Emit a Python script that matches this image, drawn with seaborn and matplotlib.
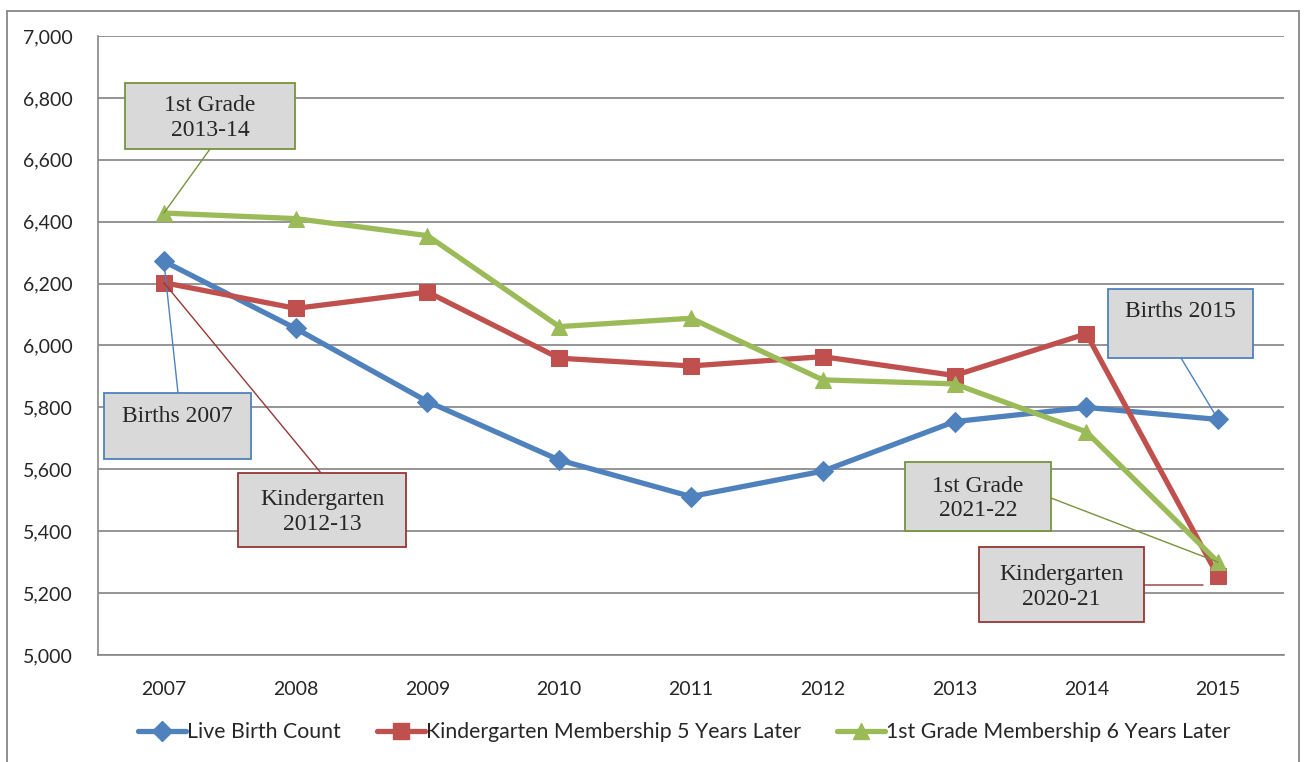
import matplotlib
matplotlib.use("Agg")
import matplotlib.pyplot as plt
import seaborn as sns
import pandas as pd
from matplotlib.patches import Rectangle
from matplotlib.lines import Line2D

years = ["2007", "2008", "2009", "2010", "2011", "2012", "2013", "2014", "2015"]
live_births = [6272, 6055, 5819, 5630, 5512, 5594, 5754, 5800, 5761]
kindergarten = [6203, 6120, 6173, 5959, 5934, 5964, 5903, 6038, 5254]
first_grade = [6428, 6410, 6355, 6061, 6088, 5889, 5876, 5721, 5300]

series_names = ["Live Birth Count",
                "Kindergarten Membership 5 Years Later",
                "1st Grade Membership 6 Years Later"]
colors = ["#4F81BD", "#C0504D", "#9BBB59"]
markers = ["D", "s", "^"]
msizes = [10.5, 11.5, 12]

rows = []
for name, vals in zip(series_names, [live_births, kindergarten, first_grade]):
    for i, (y, v) in enumerate(zip(years, vals)):
        rows.append({"idx": i, "year": y, "value": v, "series": name})
df = pd.DataFrame(rows)

sns.set_style("white")
plt.rcParams["font.family"] = ["Lato", "DejaVu Sans"]

W, H = 1304, 762
fig = plt.figure(figsize=(W / 100, H / 100), dpi=100)
ax = fig.add_axes([98 / W, 1 - 655 / H, (1284 - 98) / W, (655 - 36) / H])

for name, c, m, ms in zip(series_names, colors, markers, msizes):
    sub = df[df["series"] == name]
    sns.lineplot(data=sub, x="idx", y="value", ax=ax, color=c, lw=3.8,
                 marker=m, markersize=ms, markeredgecolor=c, legend=False,
                 zorder=3)

ax.set_xlim(-0.5, len(years) - 0.5)
ax.set_ylim(5000, 7000)
ax.set_yticks(range(5000, 7001, 200))
ax.set_yticklabels([f"{v:,}" for v in range(5000, 7001, 200)])
ax.set_xticks(range(len(years)))
ax.set_xticklabels(years)
ax.set_xticks([i - 0.5 for i in range(len(years) + 1)], minor=True)
ax.tick_params(axis="x", which="major", length=0, pad=19, labelsize=14)
ax.tick_params(axis="x", which="minor", length=6, color="#868686", width=1.2,
               direction="out")
ax.tick_params(axis="y", which="major", length=6, color="#868686", width=1.2,
               direction="out", pad=12, labelsize=14)
ax.set_xlabel("")
ax.set_ylabel("")
ax.grid(axis="y", color="#8C8C8C", lw=1.3)
ax.grid(axis="x", visible=False)
for s in ["top", "right"]:
    ax.spines[s].set_visible(False)
for s in ["left", "bottom"]:
    ax.spines[s].set_color("#868686")
    ax.spines[s].set_linewidth(1.2)
ax.set_axisbelow(True)

# outer chart border
fig.add_artist(Rectangle((7 / W, -0.05), (1299 - 7) / W, 1.05 - 11 / H,
                         transform=fig.transFigure, fill=False,
                         edgecolor="#868686", lw=1.3))

# legend
handles = [Line2D([0], [0], color=c, lw=3.8, marker=m, markersize=ms * 0.95,
                  markeredgecolor=c)
           for c, m, ms in zip(colors, markers, msizes)]
fig.legend(handles, series_names, loc="center", ncol=3,
           bbox_to_anchor=(684 / W, 1 - 732 / H), frameon=False,
           fontsize=15.3, handlelength=2.25, handletextpad=0.05,
           columnspacing=1.7)

# callout boxes
serif = ["Liberation Serif", "DejaVu Serif"]
def fp(x, y):
    return (x / W, 1 - y / H)

def callout(box, text, edge, anchor, series_vals, idx, text_y_frac=0.5,
            end=None):
    x0, y0, x1, y1 = box
    fig.add_artist(Rectangle(fp(x0, y1), (x1 - x0) / W, (y1 - y0) / H,
                             transform=fig.transFigure, facecolor="#D9D9D9",
                             edgecolor=edge, lw=1.3, zorder=10))
    tx = (x0 + x1) / 2
    ty = y0 + (y1 - y0) * text_y_frac
    fig.text(*fp(tx, ty), text, ha="center", va="center", fontsize=17,
             family=serif, zorder=11, linespacing=1.22)
    if end is None:
        xy, xyc = (idx, series_vals[idx]), "data"
    else:
        xy, xyc = fp(*end), "figure fraction"
    ax.annotate("", xy=xy, xycoords=xyc,
                xytext=fp(*anchor), textcoords="figure fraction",
                arrowprops=dict(arrowstyle="-", color=edge, lw=1.0,
                                shrinkA=0, shrinkB=0), zorder=9,
                annotation_clip=False)

callout((125, 83, 295, 149), "1st Grade\n2013-14", "#77933C", (210, 149),
        first_grade, 0, text_y_frac=0.53)
callout((104, 393, 251, 459), "Births 2007", "#4F81BD", (178, 393),
        live_births, 0, text_y_frac=0.36)
callout((238, 473, 406, 547), "Kindergarten\n2012-13", "#953735", (321, 473),
        kindergarten, 0, text_y_frac=0.53)
callout((1108, 289, 1253, 358), "Births 2015", "#4F81BD", (1181, 358),
        live_births, 8, text_y_frac=0.33)
callout((905, 462, 1051, 531), "1st Grade\n2021-22", "#77933C", (1051, 498),
        first_grade, 8, text_y_frac=0.53)
callout((979, 547, 1144, 622), "Kindergarten\n2020-21", "#953735", (1144, 585),
        kindergarten, 8, text_y_frac=0.53, end=(1203, 585))

fig.savefig("out.png", dpi=100)
